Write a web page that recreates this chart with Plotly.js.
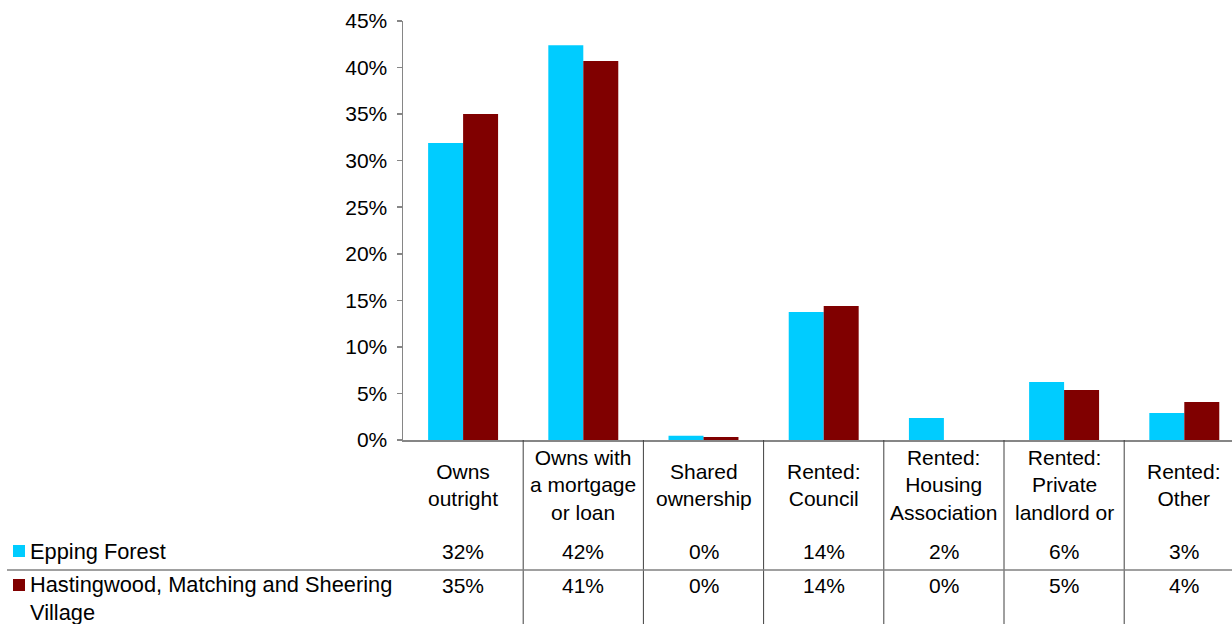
<!DOCTYPE html>
<html>
<head>
<meta charset="utf-8">
<script src="https://cdn.plot.ly/plotly-3.0.1.min.js"></script>
<style>html,body{margin:0;padding:0;background:#fff;overflow:hidden}#chart{width:1232px;height:624px}</style>
</head>
<body>
<div id="chart"></div>
<script>
const categories = ["Owns outright", "Owns with a mortgage or loan", "Shared ownership", "Rented: Council", "Rented: Housing Association", "Rented: Private landlord or", "Rented: Other"];
const categoryLabels = ["Owns<br>outright", "Owns with<br>a mortgage<br>or loan", "Shared<br>ownership", "Rented:<br>Council", "Rented:<br>Housing<br>Association", "Rented:<br>Private<br>landlord or", "Rented:<br>Other"];
const seriesNames = ["Epping Forest", "Hastingwood, Matching and Sheering Village"];
const seriesLabels = ["Epping Forest", "Hastingwood, Matching and Sheering<br>Village"];
const eppingForest = [31.9, 42.4, 0.46, 13.75, 2.36, 6.23, 2.9];
const hastingwood = [35.0, 40.7, 0.32, 14.4, 0, 5.37, 4.08];
const colors = ["#00CCFF", "#800000"];
const yTicks = [0, 5, 10, 15, 20, 25, 30, 35, 40, 45];

const FONT = "Liberation Sans, Arial, sans-serif";
const FS = 21;
const series = [eppingForest, hastingwood];

// pixel geometry helpers (paper coordinates)
const plotL = 403, plotT = 21, plotB = 440, W = 1232, H = 624;
const plotH = plotB - plotT, plotW = W - plotL;
const py = px => (plotB - px) / plotH;
const pxx = px => (px - plotL) / plotW;

const traces = series.map((vals, i) => ({
  type: "bar",
  name: seriesNames[i],
  x: categories,
  y: vals,
  marker: {color: colors[i], line: {width: 0}},
  hoverinfo: "x+y",
  showlegend: false
}));

const shapes = [];
const annotations = [];

// vertical separators of the data table
for (let i = 0; i < categories.length - 1; i++) {
  shapes.push({type: "line", xref: "x", yref: "paper", x0: i + 0.5, x1: i + 0.5, y0: 0, y1: py(H + 2), line: {color: "#404040", width: 1}});
}
// horizontal separator between series rows
shapes.push({type: "line", xref: "paper", yref: "paper", x0: pxx(7), x1: 1, y0: py(570), y1: py(570), line: {color: "#808080", width: 1.5}});

// category labels
categories.forEach((c, i) => {
  annotations.push({xref: "x", yref: "paper", x: c, y: py(485), text: categoryLabels[i], showarrow: false, xanchor: "center", yanchor: "middle", align: "center", font: {family: FONT, size: FS, color: "#000"}});
});

// data table rows
const rowY = [551, 585];
series.forEach((vals, s) => {
  vals.forEach((v, i) => {
    annotations.push({xref: "x", yref: "paper", x: categories[i], y: py(rowY[s]), text: Math.round(v) + "%", showarrow: false, xanchor: "center", yanchor: "middle", font: {family: FONT, size: FS, color: "#000"}});
  });
  // legend key
  shapes.push({type: "rect", xref: "paper", yref: "paper", x0: pxx(13), x1: pxx(25), y0: py(rowY[s] - 6), y1: py(rowY[s] + 6), fillcolor: colors[s], line: {width: 0}});
  annotations.push({xref: "paper", yref: "paper", x: pxx(28), y: s === 0 ? py(rowY[s]) : py(rowY[s] - 15), text: seriesLabels[s], showarrow: false, xanchor: "left", yanchor: s === 0 ? "middle" : "top", align: "left", font: {family: FONT, size: 21.8, color: "#000"}});
});

const layout = {
  width: W, height: H,
  margin: {l: plotL, r: 0, t: plotT, b: H - plotB, pad: 0},
  paper_bgcolor: "#fff", plot_bgcolor: "#fff",
  font: {family: FONT, size: FS, color: "#000"},
  barmode: "group", bargap: 0.418, bargroupgap: 0,
  xaxis: {type: "category", range: [-0.5, -0.5 + plotW / 120.2], showticklabels: false, ticks: "", showgrid: false, zeroline: false, showline: true, linecolor: "#868686", linewidth: 1.5, fixedrange: true},
  yaxis: {range: [0, 45], tickvals: yTicks, ticktext: yTicks.map(t => t + "%"), ticks: "outside", ticklen: 5, tickcolor: "#868686", tickwidth: 1.5, ticklabelstandoff: 5, showgrid: false, zeroline: false, showline: true, linecolor: "#868686", linewidth: 1.5, tickfont: {family: FONT, size: FS, color: "#000"}, fixedrange: true},
  shapes: shapes,
  annotations: annotations,
  showlegend: false
};

Plotly.newPlot("chart", traces, layout, {displayModeBar: false, staticPlot: true});
</script>
</body>
</html>
